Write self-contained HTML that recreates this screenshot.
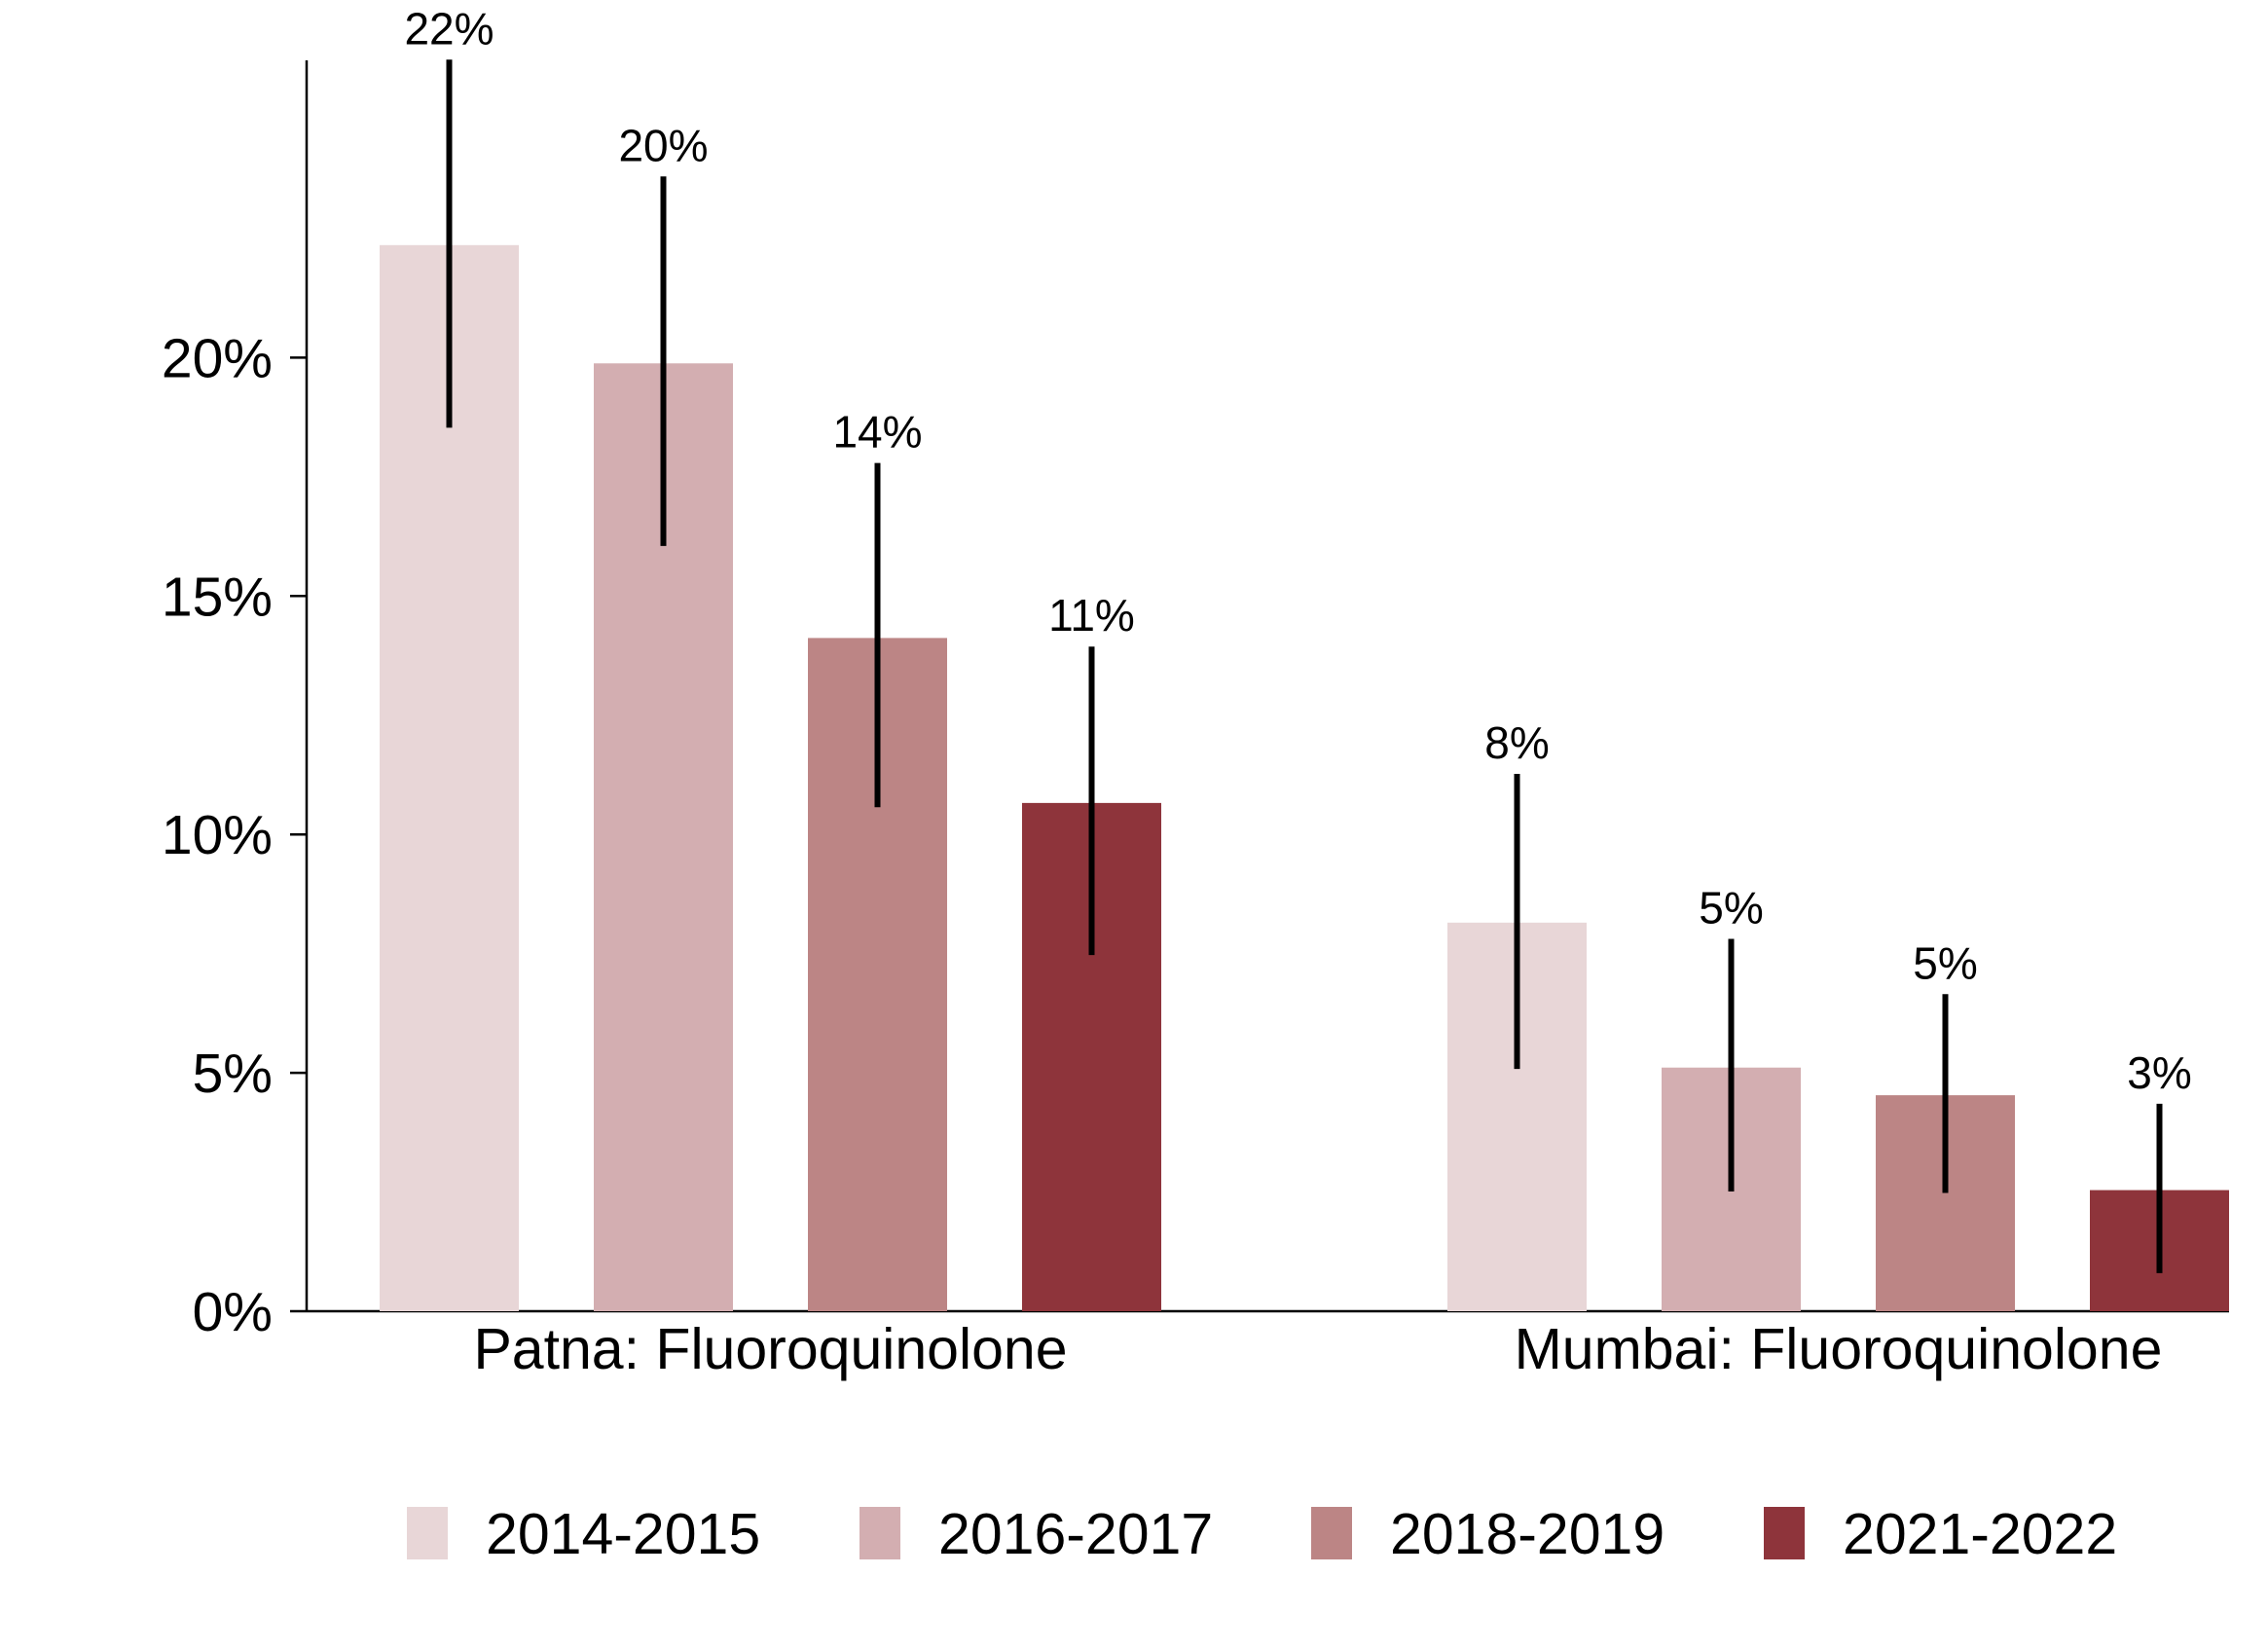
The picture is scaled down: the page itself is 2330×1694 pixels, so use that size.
<!DOCTYPE html>
<html><head><meta charset="utf-8"><style>
html,body{margin:0;padding:0;background:#fff;}
svg{display:block;font-family:"Liberation Sans",Arial,sans-serif;}
</style></head><body>
<svg id="chart" width="2330" height="1694" viewBox="0 0 2330 1694" xmlns="http://www.w3.org/2000/svg">
<g id="axes"></g>
<g id="bars"></g>
<g id="legend"></g>
</svg>
<script>
const groups = ["Patna: Fluoroquinolone", "Mumbai: Fluoroquinolone"];
const periods = ["2014-2015", "2016-2017", "2018-2019", "2021-2022"];
const patnaValues = [22.36, 19.88, 14.12, 10.66];
const mumbaiValues = [8.15, 5.11, 4.53, 2.54];
const patnaUpper = [26.25, 23.80, 17.79, 13.94];
const patnaLower = [18.53, 16.05, 10.57, 7.47];
const mumbaiUpper = [11.27, 7.81, 6.65, 4.35];
const mumbaiLower = [5.08, 2.51, 2.48, 0.80];
const patnaLabels = ["22%", "20%", "14%", "11%"];
const mumbaiLabels = ["8%", "5%", "5%", "3%"];
const yTicks = [0, 5, 10, 15, 20];
const colors = ["#e8d6d7", "#d3aeb1", "#bc8585", "#8e343b"];

const NS = "http://www.w3.org/2000/svg";
const baseY = 1347, pxPer = 48.98;
const y = v => baseY - v * pxPer;
const groupStart = [390, 1487];
const step = 220, barW = 143;
const x = (g, i) => groupStart[g] + i * step;
function mk(tag, attrs, parent, text) {
  const e = document.createElementNS(NS, tag);
  for (const k in attrs) e.setAttribute(k, attrs[k]);
  if (text !== undefined) e.textContent = text;
  parent.appendChild(e);
  return e;
}
const axes = document.getElementById('axes');
const barsG = document.getElementById('bars');
const legend = document.getElementById('legend');

let e = mk('line', {x1: 315, y1: 62, x2: 315, y2: baseY, stroke: '#000', 'stroke-width': 2.5}, axes);


e = mk('line', {x1: 315, y1: baseY, x2: 2290, y2: baseY, stroke: '#000', 'stroke-width': 2.5}, axes);


yTicks.forEach(t => {
  const tk = mk('line', {x1: 298, y1: y(t), x2: 315, y2: y(t), stroke: '#000', 'stroke-width': 2.5}, axes);
  
  
  const lb = mk('text', {x: 280, y: y(t) + 20, 'text-anchor': 'end', 'font-size': 57}, axes, t + '%');
  
  
});

const vals = [patnaValues, mumbaiValues];
const ups = [patnaUpper, mumbaiUpper];
const lows = [patnaLower, mumbaiLower];
const labs = [patnaLabels, mumbaiLabels];
groups.forEach((gname, g) => {
  vals[g].forEach((v, i) => {
    const bx = x(g, i), cx = bx + barW / 2;
    const r = mk('rect', {x: bx, y: y(v), width: barW, height: baseY - y(v), fill: colors[i]}, barsG);
    
    
    const eb = mk('line', {x1: cx, y1: y(ups[g][i]), x2: cx, y2: y(lows[g][i]), stroke: '#000', 'stroke-width': 6}, barsG);
    
    
    const vl = mk('text', {x: cx, y: y(ups[g][i]) - 16, 'text-anchor': 'middle', 'font-size': 46}, barsG, labs[g][i]);
    
    
  });
  const gc = (x(g, 0) + x(g, 3) + barW) / 2;
  const gl = mk('text', {x: gc, y: 1406, 'text-anchor': 'middle', 'font-size': 59}, axes, gname);
  
  
});

const legX = [418, 883, 1347, 1812];
periods.forEach((p, i) => {
  const sq = mk('rect', {x: legX[i], y: 1548, width: 42, height: 54, fill: colors[i]}, legend);
  
  
  const t = mk('text', {x: legX[i] + 81, y: 1596, 'font-size': 59}, legend, p);
  
  
});
</script>
</body></html>
